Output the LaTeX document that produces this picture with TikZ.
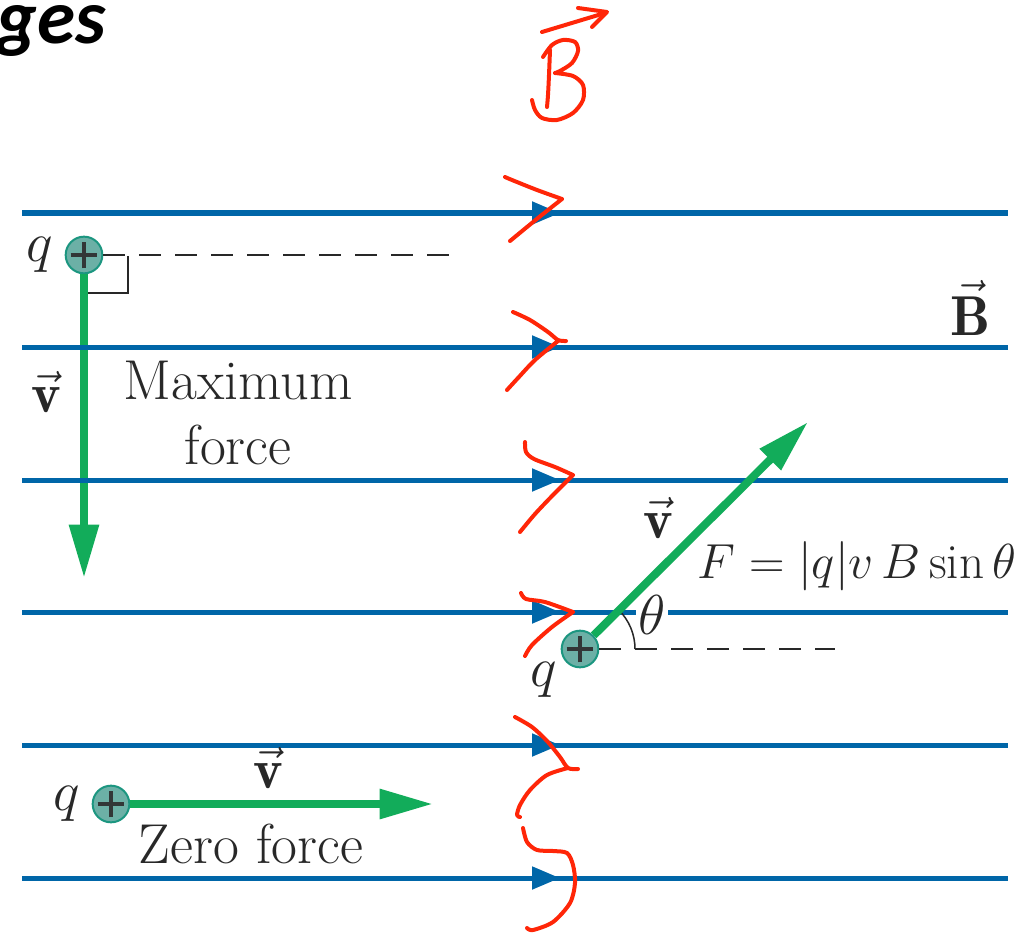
\RequirePackage{fix-cm}
\documentclass[tikz,border=0pt]{standalone}
\usepackage{fontspec}
\newfontfamily\headfont{Carlito}
\usetikzlibrary{arrows.meta, positioning}
\definecolor{fieldblue}{RGB}{0,102,168}
\definecolor{velgreen}{RGB}{18,172,90}
\definecolor{chargefill}{RGB}{108,176,166}
\definecolor{chargeedge}{RGB}{28,150,128}
\definecolor{plusgray}{RGB}{50,55,55}
\definecolor{textgray}{RGB}{40,40,40}
\definecolor{inkred}{RGB}{255,38,8}

\begin{document}
\begin{tikzpicture}[x=0.03cm, y=-0.03cm,
    field/.style={fieldblue, line width=1.5mm},
    vel/.style={velgreen, line width=2.4mm, -{Triangle[length=16mm,width=8.5mm]}},
    charge/.style={circle, draw=chargeedge, line width=0.6mm, fill=chargefill, minimum size=1.1cm, inner sep=0pt,
        path picture={\draw[plusgray, line width=1.2mm] (path picture bounding box.center) +(-0.4cm,0) -- +(0.4cm,0)
            (path picture bounding box.center) +(0,-0.4cm) -- +(0,0.4cm);}},
    lbl/.style={text=textgray, font=\fontsize{48}{56}\selectfont, inner sep=1pt},
    refline/.style={textgray, line width=0.6mm, dash pattern=on 6.6mm off 4.2mm},
    ink/.style={inkred, line width=1.2mm, line cap=round, line join=round}]
    \useasboundingbox (0,0) rectangle (1018,933);

    \node[anchor=base west, inner sep=0pt, font=\headfont\fontsize{66}{70}\selectfont\bfseries\itshape] (title) at (-4,44) {ges};

    % charges
    \node[charge] (q1) at (84,255) {};
    \node[charge] (q2) at (580,649) {};
    \node[charge] (q3) at (111,804) {};
    \coordinate (v1tip) at (84,578);
    \coordinate (v2tip) at (808,422);
    \coordinate (v3tip) at (433,804);

    \draw[vel] (q1) -- (v1tip);

    % field lines
    \foreach \y in {213,347,480,612,745,878} {
        \draw[field, -{Triangle[length=8.4mm,width=6.6mm]}] (22,\y) -- (560,\y);
        \draw[field] (545,\y) -- (1008,\y);
    }

    \draw[refline] (q1.east) -- (455,255);
    \draw[textgray, line width=0.45mm] (88,293) -- (128,293) -- (128,256);
    \draw[refline] (q2.east) -- (835,649);
    \draw[textgray, line width=0.45mm] (q2.center) ++(55,0) arc[start angle=0, end angle=45, radius=1.65cm];
    \node[lbl, fill=white, inner sep=2pt] (theta) at (652,615) {$\theta$};

    \draw[vel] (q2) -- (v2tip);
    \draw[vel] (q3) -- (v3tip);

    \node[lbl, left=0.3cm of q1] (q1lbl) {$q$};
    \node[lbl] (q2lbl) at (544,680) {$q$};
    \node[lbl, left=0.3cm of q3] (q3lbl) {$q$};
    \node[lbl] (v1lbl) at (46,392) {$\vec{\mathbf{v}}$};
    \node[lbl] (v2lbl) at (658,518) {$\vec{\mathbf{v}}$};
    \node[lbl] (v3lbl) at (268,768) {$\vec{\mathbf{v}}$};
    \node[lbl, align=center] (maxf) at (238,413) {Maximum\\force};
    \node[lbl] (zerof) at (251,844) {Zero force};
    \node[lbl, font=\fontsize{42}{50}\selectfont] (law) at (857,566) {$F =|q|v\,B\sin\theta$};
    \node[lbl] (Blbl) at (970,308) {$\vec{\mathbf{B}}$};

    % red handwriting
    \draw[ink] (542,32) -- (605,13);
    \draw[ink] (578,8) -- (607,12) -- (592,27);
    \draw[ink] plot[smooth] coordinates {(550,50) (549,75) (548,95) (547,107)};
    \draw[ink] plot[smooth] coordinates {(543,57) (552,45) (563,40) (575,42) (578,51) (572,63) (560,71) (555,73)}
               plot[smooth] coordinates {(555,73) (573,76) (583,85) (583,100) (573,113) (557,120) (542,118) (535,110) (532,100)};
    \draw[ink] plot[smooth] coordinates {(505,177) (512,180) (537,190) (562,199)}
               plot[smooth] coordinates {(562,199) (538,218) (510,241)};
    \draw[ink] plot[smooth] coordinates {(513,312) (530,320) (548,332) (558,340) (566,341)}
               plot[smooth] coordinates {(558,341) (535,360) (518,378) (507,390)};
    \draw[ink] plot[smooth] coordinates {(525,442) (526,452) (534,459) (555,467) (573,475)}
               plot[smooth] coordinates {(573,475) (553,495) (535,514) (520,532)};
    \draw[ink] plot[smooth] coordinates {(521,593) (526,599) (545,602) (573,612)}
               plot[smooth] coordinates {(573,612) (552,627) (532,645) (525,656)};
    \draw[ink] plot[smooth] coordinates {(515,717) (532,727) (547,741) (560,757) (568,768) (578,769)}
               plot[smooth] coordinates {(568,768) (547,775) (530,790) (520,805) (517,815) (520,817)};
    \draw[ink] plot[smooth] coordinates {(523,828) (527,842) (537,850) (553,851) (567,853) (573,865) (575,883) (570,903) (553,922) (533,930) (527,928)};
\end{tikzpicture}
\end{document}
